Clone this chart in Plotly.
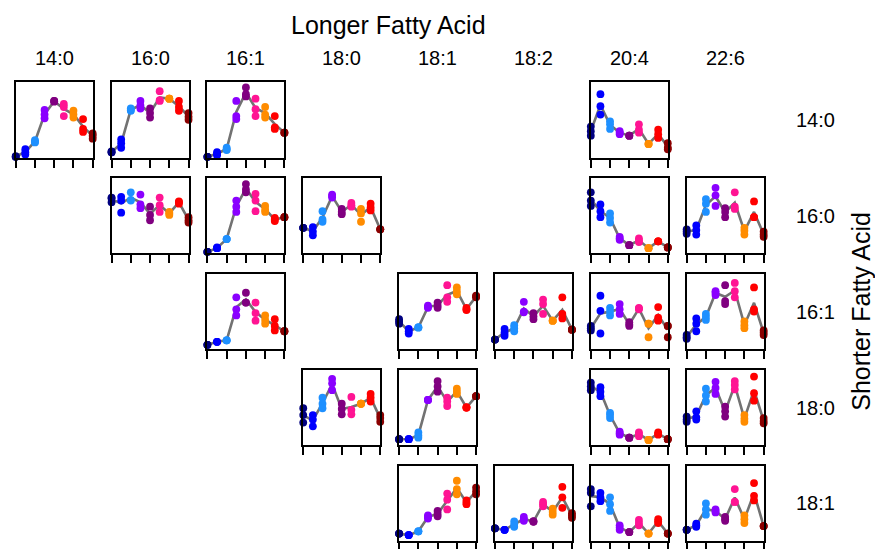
import plotly.graph_objects as go

# ---------------- data ----------------
longer = ["14:0", "16:0", "16:1", "18:0", "18:1", "18:2", "20:4", "22:6"]
shorter = ["14:0", "16:0", "16:1", "18:0", "18:1"]
group_colors = ["#000080", "#0000ff", "#1e90ff", "#8a00ff", "#800080",
                "#ff1493", "#ff8c00", "#ff0000", "#8b0000"]
x_groups = [0, 1, 2, 3, 4, 5, 6, 7, 8]
x_ticks = [0, 2, 4, 6, 8]

# relative values (0-100), 9 groups x 3 replicates, per (shorter, longer) pair
s140_l140 = [[1, 1, 2], [11, 7, 4], [23, 20, 21], [63, 57, 52], [75, 75, 74],
             [71, 67, 55], [62, 57, 53], [51, 38, 34], [32, 29, 25]]
s140_l160 = [[7, 8, 7], [24, 19, 13], [65, 62, 63], [75, 69, 65], [65, 59, 53],
             [88, 75, 76], [78, 78, 78], [75, 67, 62], [59, 54, 50]]
s140_l161 = [[1, 1, 1], [7, 3, 5], [13, 10, 11], [75, 55, 51], [93, 84, 81],
             [78, 64, 55], [67, 57, 53], [55, 38, 40], [33, 33, 33]]
s140_l204 = [[41, 35, 29], [84, 68, 57], [48, 44, 38], [35, 31, 33], [29, 29, 29],
             [44, 37, 33], [18, 18, 18], [37, 31, 26], [19, 13, 11]]

s160_l160 = [[74, 73, 68], [75, 70, 54], [81, 70, 71], [78, 65, 60], [62, 51, 44],
             [74, 64, 55], [55, 51, 53], [69, 66, 68], [48, 44, 41]]
s160_l161 = [[2, 2, 2], [7, 8, 7], [19, 19, 19], [70, 55, 62], [92, 81, 85],
             [79, 70, 56], [63, 55, 58], [47, 43, 45], [48, 48, 48]]
s160_l180 = [[34, 34, 34], [35, 29, 24], [56, 45, 42], [78, 74, 76], [59, 52, 55],
             [67, 62, 64], [59, 53, 42], [66, 57, 61], [32, 32, 32]]
s160_l204 = [[81, 70, 63], [65, 48, 56], [53, 47, 41], [22, 18, 20], [11, 11, 11],
             [20, 15, 17], [7, 7, 7], [16, 16, 16], [8, 8, 8]]
s160_l226 = [[32, 26, 29], [37, 31, 25], [72, 66, 55], [87, 77, 63], [60, 55, 48],
             [81, 62, 59], [34, 25, 30], [69, 48, 48], [29, 22, 25]]

s161_l161 = [[6, 6, 6], [10, 10, 10], [12, 12, 12], [69, 53, 45], [75, 62, 62],
             [62, 48, 38], [45, 34, 39], [40, 31, 25], [24, 24, 24]]
s161_l181 = [[40, 34, 37], [27, 21, 24], [29, 29, 29], [58, 55, 56], [62, 55, 58],
             [85, 69, 63], [82, 73, 77], [55, 52, 53], [71, 69, 70]]
s161_l182 = [[13, 13, 13], [27, 18, 22], [32, 24, 28], [63, 49, 50], [48, 40, 44],
             [66, 60, 47], [38, 38, 38], [69, 47, 41], [26, 26, 26]]
s161_l204 = [[31, 25, 28], [71, 51, 21], [55, 45, 50], [60, 47, 53], [36, 31, 33],
             [55, 53, 54], [34, 16, 34], [56, 42, 38], [31, 16, 31]]
s161_l226 = [[19, 14, 16], [41, 34, 24], [47, 39, 43], [77, 72, 75], [85, 64, 60],
             [88, 77, 69], [37, 28, 32], [82, 53, 50], [25, 19, 22]]

s180_l180 = [[49, 40, 30], [40, 34, 25], [63, 55, 49], [88, 82, 73], [55, 41, 48],
             [64, 47, 41], [55, 55, 55], [68, 58, 63], [40, 36, 31]]
s180_l181 = [[8, 8, 8], [8, 8, 8], [17, 13, 10], [60, 60, 60], [85, 78, 71],
             [63, 52, 58], [75, 68, 71], [50, 50, 50], [65, 65, 65]]
s180_l204 = [[83, 73, 78], [77, 71, 65], [43, 36, 40], [18, 14, 16], [10, 10, 10],
             [17, 12, 15], [7, 7, 7], [17, 14, 15], [8, 8, 8]]
s180_l226 = [[38, 31, 34], [45, 37, 34], [75, 58, 66], [84, 68, 76], [51, 45, 38],
             [85, 74, 80], [40, 31, 35], [91, 69, 59], [36, 29, 32]]

s181_l181 = [[10, 10, 10], [8, 8, 8], [13, 13, 13], [34, 30, 32], [40, 33, 36],
             [63, 55, 42], [80, 69, 62], [54, 49, 51], [71, 62, 66]]
s181_l182 = [[17, 17, 17], [15, 15, 15], [26, 19, 22], [32, 27, 29], [26, 26, 26],
             [52, 46, 49], [43, 35, 39], [72, 58, 44], [37, 31, 34]]
s181_l204 = [[69, 64, 46], [64, 53, 58], [58, 40, 49], [21, 15, 18], [12, 12, 12],
             [28, 21, 24], [10, 10, 10], [29, 24, 26], [10, 10, 10]]
s181_l226 = [[15, 15, 15], [23, 19, 21], [50, 35, 42], [42, 38, 40], [32, 27, 29],
             [69, 52, 52], [34, 24, 29], [77, 60, 54], [20, 20, 20]]

panels = [
    ("14:0", "14:0", s140_l140), ("14:0", "16:0", s140_l160),
    ("14:0", "16:1", s140_l161), ("14:0", "20:4", s140_l204),
    ("16:0", "16:0", s160_l160), ("16:0", "16:1", s160_l161),
    ("16:0", "18:0", s160_l180), ("16:0", "20:4", s160_l204),
    ("16:0", "22:6", s160_l226),
    ("16:1", "16:1", s161_l161), ("16:1", "18:1", s161_l181),
    ("16:1", "18:2", s161_l182), ("16:1", "20:4", s161_l204),
    ("16:1", "22:6", s161_l226),
    ("18:0", "18:0", s180_l180), ("18:0", "18:1", s180_l181),
    ("18:0", "20:4", s180_l204), ("18:0", "22:6", s180_l226),
    ("18:1", "18:1", s181_l181), ("18:1", "18:2", s181_l182),
    ("18:1", "20:4", s181_l204), ("18:1", "22:6", s181_l226),
]

# ---------------- layout geometry (pixels) ----------------
W, H = 875, 549
COL_LEFT0, COL_STEP, PW = 15.7, 95.85, 77
ROW_TOP0, ROW_STEP, PH = 82.7, 96.6, 76
FONT = "Liberation Sans, Arial, sans-serif"

fig = go.Figure()
layout = dict(width=W, height=H, margin=dict(l=0, r=0, t=0, b=0),
              paper_bgcolor="white", plot_bgcolor="white", showlegend=False)

for i, (s, l, data) in enumerate(panels, start=1):
    r = shorter.index(s)
    c = longer.index(l)
    x0 = COL_LEFT0 + c * COL_STEP
    y0 = ROW_TOP0 + r * ROW_STEP
    xd = [x0 / W, (x0 + PW) / W]
    yd = [max(0.0, 1 - (y0 + PH) / H), 1 - y0 / H]
    xa = "x" if i == 1 else f"x{i}"
    ya = "y" if i == 1 else f"y{i}"
    means = [sum(g) / len(g) for g in data]
    fig.add_trace(go.Scatter(x=x_groups, y=means, mode="lines",
                             line=dict(color="#727272", width=2.6),
                             xaxis=xa, yaxis=ya, cliponaxis=False,
                             hoverinfo="skip"))
    px, py, pc = [], [], []
    for gi, g in enumerate(data):
        for v in g:
            px.append(x_groups[gi])
            py.append(v)
            pc.append(group_colors[gi])
    fig.add_trace(go.Scatter(x=px, y=py, mode="markers",
                             marker=dict(color=pc, size=7.8, line=dict(width=0)),
                             xaxis=xa, yaxis=ya, cliponaxis=False))
    kx = "xaxis" if i == 1 else f"xaxis{i}"
    ky = "yaxis" if i == 1 else f"yaxis{i}"
    layout[kx] = dict(domain=xd, range=[0, 8], anchor=ya, showgrid=False,
                      zeroline=False, showline=True, mirror=True,
                      linecolor="black", linewidth=2, ticks="outside",
                      ticklen=8, tickwidth=1.6, tickcolor="black",
                      tickvals=x_ticks, showticklabels=False, fixedrange=True)
    layout[ky] = dict(domain=yd, range=[0, 100], anchor=xa, showgrid=False,
                      zeroline=False, showline=True, mirror=True,
                      linecolor="black", linewidth=2, ticks="",
                      showticklabels=False, fixedrange=True)

annotations = [dict(text="Longer Fatty Acid", x=388 / W, y=1 - 25 / H,
                    xref="paper", yref="paper", showarrow=False,
                    xanchor="center", yanchor="middle",
                    font=dict(family=FONT, size=25, color="black"))]
for c, lab in enumerate(longer):
    annotations.append(dict(text=lab, x=(COL_LEFT0 + c * COL_STEP + PW / 2) / W,
                            y=1 - 58 / H, xref="paper", yref="paper",
                            showarrow=False, xanchor="center", yanchor="middle",
                            font=dict(family=FONT, size=20, color="black")))
for r, lab in enumerate(shorter):
    annotations.append(dict(text=lab, x=815 / W,
                            y=1 - (ROW_TOP0 + r * ROW_STEP + PH / 2) / H,
                            xref="paper", yref="paper", showarrow=False,
                            xanchor="center", yanchor="middle",
                            font=dict(family=FONT, size=20, color="black")))
annotations.append(dict(text="Shorter Fatty Acid", x=861 / W, y=1 - 314 / H,
                        xref="paper", yref="paper", showarrow=False,
                        textangle=-90, xanchor="center", yanchor="middle",
                        font=dict(family=FONT, size=25, color="black")))
layout["annotations"] = annotations
fig.update_layout(**layout)
fig.write_html("out.html",
               config={"displayModeBar": False},
               post_script="document.body.style.margin='0';"
                           "document.body.style.overflow='hidden';")
